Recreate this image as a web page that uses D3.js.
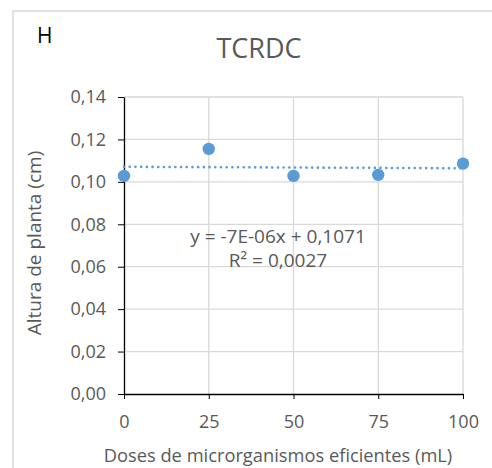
<!DOCTYPE html>
<html lang="pt">
<head>
<meta charset="UTF-8" />
<script src="https://d3js.org/d3.v7.min.js"></script>
<title>TCRDC</title>
<style>
  body { margin: 0; background: #fff; }
  text { font-family: "Open Sans", sans-serif; }
  .grid line { stroke: #d9d9d9; stroke-width: 1.3; }
  .axis path, .axis line { stroke: #000; }
  .axis text { fill: #595959; font-size: 18px; font-family: "Open Sans", sans-serif; }
</style>
</head>
<body>
<script>
// dados
const doses = [0, 25, 50, 75, 100];
const altura = [0.1028, 0.1155, 0.1028, 0.1033, 0.1086];
const xTicks = [0, 25, 50, 75, 100];
const yTicks = [0, 0.02, 0.04, 0.06, 0.08, 0.10, 0.12, 0.14];
const trend = { slope: -7e-6, intercept: 0.1071 };
const eqLabel = "y = -7E-06x + 0,1071";
const r2Label = "R² = 0,0027";

const W = 492, H = 468;
const m = { left: 124, right: 29, top: 97, bottom: 74 };
const iw = W - m.left - m.right, ih = H - m.top - m.bottom;

const svg = d3.select("body").append("svg").attr("width", W).attr("height", H);

// moldura
svg.append("rect").attr("x", 13).attr("y", 11).attr("width", 520).attr("height", 500)
  .attr("fill", "none").attr("stroke", "#d9d9d9").attr("stroke-width", 1.5);

const x = d3.scaleLinear().domain([0, 100]).range([0, iw]);
const y = d3.scaleLinear().domain([0, 0.14]).range([ih, 0]);
const fmt = d => d3.format(".2f")(d).replace(".", ",");

const g = svg.append("g").attr("transform", `translate(${m.left},${m.top})`);

g.append("g").attr("class", "grid")
  .selectAll("line.h").data(yTicks.filter(d => d > 0)).join("line")
  .attr("x1", 0).attr("x2", iw).attr("y1", d => y(d)).attr("y2", d => y(d));
g.append("g").attr("class", "grid")
  .selectAll("line.v").data(xTicks.filter(d => d > 0)).join("line")
  .attr("x1", d => x(d)).attr("x2", d => x(d)).attr("y1", 0).attr("y2", ih);

const gx = g.append("g").attr("class", "axis").attr("transform", `translate(0,${ih})`)
  .call(d3.axisBottom(x).tickValues(xTicks).tickSize(5).tickSizeOuter(0).tickPadding(13));
const gy = g.append("g").attr("class", "axis")
  .call(d3.axisLeft(y).tickValues(yTicks).tickFormat(fmt).tickSize(6).tickSizeOuter(0).tickPadding(12));
gx.select(".domain").attr("stroke-width", 1.3);
gy.select(".domain").attr("stroke-width", 1.3);
gx.selectAll("text").attr("dy", "0.9em");

// linha de tendência
g.append("line")
  .attr("x1", x(0)).attr("x2", x(100))
  .attr("y1", y(trend.intercept)).attr("y2", y(trend.intercept + trend.slope * 100))
  .attr("stroke", "#5b9bd5").attr("stroke-width", 2.6)
  .attr("stroke-dasharray", "0.1,5.6").attr("stroke-linecap", "round");

g.selectAll("circle").data(doses).join("circle")
  .attr("cx", d => x(d)).attr("cy", (d, i) => y(altura[i])).attr("r", 6.2)
  .attr("fill", "#5b9bd5");

// textos
svg.append("text").attr("x", 37).attr("y", 43).attr("font-size", 21).attr("fill", "#000").text("H");
svg.append("text").attr("x", 259).attr("y", 58).attr("text-anchor", "middle")
  .attr("font-size", 27).attr("fill", "#595959").text("TCRDC");
svg.append("text").attr("x", 278).attr("y", 243).attr("text-anchor", "middle")
  .attr("font-size", 19).attr("fill", "#595959").text(eqLabel);
svg.append("text").attr("x", 278).attr("y", 267).attr("text-anchor", "middle")
  .attr("font-size", 19).attr("fill", "#595959").text(r2Label);
svg.append("text").attr("x", 278).attr("y", 462).attr("text-anchor", "middle")
  .attr("font-size", 18.3).attr("fill", "#595959").text("Doses de microrganismos eficientes (mL)");
svg.append("text").attr("transform", "translate(41,243) rotate(-90)").attr("text-anchor", "middle")
  .attr("font-size", 19).attr("fill", "#595959").text("Altura de planta (cm)");
</script>
</body>
</html>
